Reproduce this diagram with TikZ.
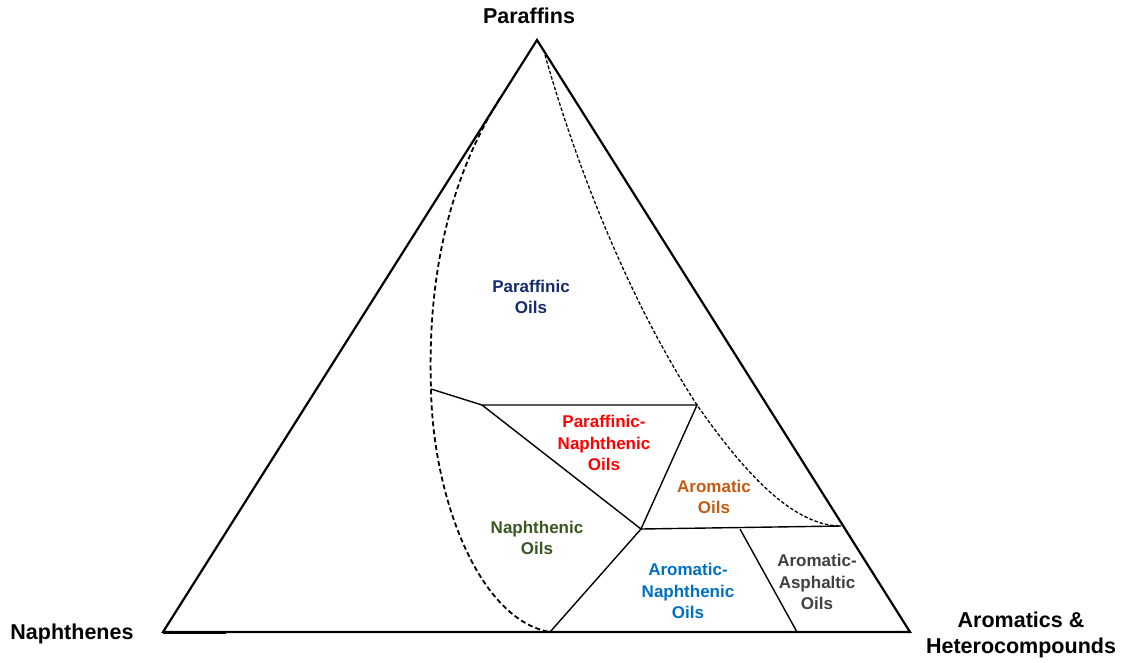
\documentclass[tikz,border=0pt]{standalone}
\usepackage{fontspec}
\setmainfont{Liberation Sans}
\definecolor{cPar}{RGB}{20,44,110}
\definecolor{cPN}{RGB}{255,0,0}
\definecolor{cAro}{RGB}{197,90,17}
\definecolor{cNap}{RGB}{56,87,35}
\definecolor{cAN}{RGB}{0,112,192}
\definecolor{cAA}{RGB}{64,64,64}
\begin{document}
\begin{tikzpicture}[x=1pt,y=-1pt,
  edge/.style={line width=2.2pt,line join=miter,black},
  bound/.style={line width=1.4pt,black},
  dashleft/.style={line width=1.8pt,dash pattern=on 5pt off 3pt},
  dashright/.style={line width=1.3pt,dash pattern=on 3.5pt off 2pt},
  corner/.style={font=\fontsize{21.5}{26}\selectfont\bfseries,align=center,inner sep=0pt},
  region/.style={font=\fontsize{17}{21.5}\selectfont\bfseries,align=center,inner sep=0pt}]
\useasboundingbox (0,0) rectangle (1123,662);
% triangle vertices
\coordinate (A) at (537,40);
\coordinate (L) at (163,632);
\coordinate (R) at (910,632);
\coordinate (Lthick) at (226,632);
\draw[edge] (A) -- (L) -- (R) -- cycle;
\draw[line width=3pt] (L) -- (Lthick);
% region boundaries
\coordinate (cl) at (431,389);
\coordinate (pnl) at (482,405);
\coordinate (pnr) at (697,405);
\coordinate (c) at (641,529);
\coordinate (hr) at (841,526);
\coordinate (bm) at (550,632);
\coordinate (at) at (740,529);
\coordinate (ab) at (797,632);
\coordinate (ls) at (500,98);
\coordinate (rs) at (545,55);
\draw[bound] (cl) -- (pnl);
\draw[bound,line join=miter] (pnl) -- (pnr) -- (c) -- cycle;
\draw[bound] (c) -- (hr);
\draw[bound] (c) -- (bm);
\draw[bound] (at) -- (ab);
% dashed envelopes
\draw[dashleft] (ls) .. controls (440,194) and (428,300) .. (cl)
  .. controls (433,500) and (480,620) .. (bm);
\draw[dashright] (rs) .. controls (579,175) and (632,305) .. (pnr)
  .. controls (739,465) and (790,526) .. (hr);
% corner labels
\node[corner] (tP) at (529,16) {Paraffins};
\node[corner] (tN) at (72,634) {Naphthenes};
\node[corner] (tA) at (1021,635) {Aromatics \&\\Heterocompounds};
% region labels
\node[region,text=cPar] (rP) at (531,297) {Paraffinic\\Oils};
\node[region,text=cPN] (rPN) at (604,443) {Paraffinic-\\Naphthenic\\Oils};
\node[region,text=cAro] (rA) at (714,497) {Aromatic\\Oils};
\node[region,text=cNap] (rN) at (537,538) {Naphthenic\\Oils};
\node[region,text=cAN] (rAN) at (688,591) {Aromatic-\\Naphthenic\\Oils};
\node[region,text=cAA] (rAA) at (817,582) {Aromatic-\\Asphaltic\\Oils};
\end{tikzpicture}
\end{document}
